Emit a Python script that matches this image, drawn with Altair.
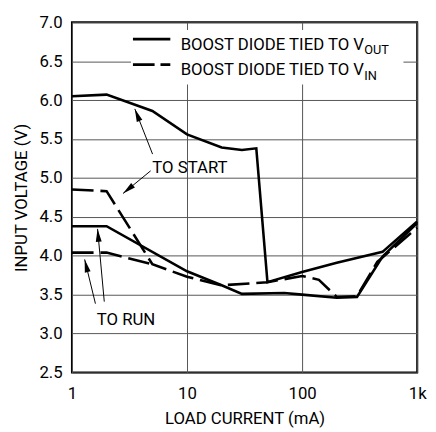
import math
import altair as alt
import pandas as pd

FONT = "Roboto, Liberation Sans, sans-serif"
FS = 17
W, H = 351, 356
X_MIN, X_MAX = 1, 1000
Y_MIN, Y_MAX = 2.5, 7.0

# ---- data ----
vout_start_x = [1, 2, 5, 10, 20, 30, 40, 50, 100, 200, 500, 1000]
vout_start_y = [6.05, 6.07, 5.86, 5.56, 5.39, 5.36, 5.38, 3.66, 3.79, 3.91, 4.05, 4.44]
vout_run_x = [1, 2, 10, 20, 30, 70, 100, 200, 300, 500, 1000]
vout_run_y = [4.38, 4.38, 3.80, 3.62, 3.51, 3.52, 3.50, 3.46, 3.47, 3.99, 4.42]
vin_start_x = [1, 2, 5, 10, 20, 50, 100, 140, 200, 300, 450, 1000]
vin_start_y = [4.85, 4.83, 3.89, 3.73, 3.62, 3.66, 3.74, 3.69, 3.47, 3.48, 3.92, 4.36]
vin_run_x = [1, 2, 5]
vin_run_y = [4.04, 4.04, 3.89]

x_tick_values = [1, 10, 100, 1000]
x_tick_labels = ["1", "10", "100", "1k"]
y_tick_values = [2.5, 3.0, 3.5, 4.0, 4.5, 5.0, 5.5, 6.0, 6.5, 7.0]

legend_main = ["BOOST DIODE TIED TO V", "BOOST DIODE TIED TO V"]
legend_sub = ["OUT", "IN"]

# annotation texts and arrows (tail -> head, data units)
ann_text = ["TO START", "TO RUN"]
ann_text_x = [10.6, 2.95]
ann_text_y = [5.066, 3.106]
arrow_x1 = [5.02, 4.83, 1.60, 1.91]
arrow_y1 = [5.306, 5.091, 3.384, 3.41]
arrow_x2 = [3.52, 2.78, 1.29, 1.67]
arrow_y2 = [5.887, 4.80, 3.953, 4.345]


def px(x):
    return math.log10(x) / math.log10(X_MAX / X_MIN) * W


def py(y):
    return (Y_MAX - y) / (Y_MAX - Y_MIN) * H


rows = []
for name, xs, ys in [("vout_start", vout_start_x, vout_start_y),
                     ("vout_run", vout_run_x, vout_run_y),
                     ("vin_start", vin_start_x, vin_start_y),
                     ("vin_run", vin_run_x, vin_run_y)]:
    for i, (a, b) in enumerate(zip(xs, ys)):
        rows.append({"series": name, "x": a, "y": b, "order": i})
df = pd.DataFrame(rows)

xscale = alt.Scale(type="log", domain=[X_MIN, X_MAX], nice=False)
yscale = alt.Scale(domain=[Y_MIN, Y_MAX], nice=False, zero=False)

label_expr = " : ".join(
    [f"datum.value == {v} ? '{l}'" for v, l in zip(x_tick_values, x_tick_labels)]
) + " : datum.label"

xaxis = alt.Axis(values=x_tick_values, labelExpr=label_expr, title="LOAD CURRENT (mA)",
                 grid=True, labelPadding=13, titlePadding=10, labelFlush=False,
                 labelOverlap=False, labelBound=False, tickCount=len(x_tick_values))
yaxis = alt.Axis(values=y_tick_values, format=".1f", title="INPUT VOLTAGE (V)",
                 grid=True, labelPadding=10, titlePadding=9, labelOverlap=False,
                 labelBound=False, labelFlush=False, tickCount=len(y_tick_values))


def X(field):
    return alt.X(field, type="quantitative", scale=xscale, axis=xaxis)


def Y(field):
    return alt.Y(field, type="quantitative", scale=yscale, axis=yaxis)


base = alt.Chart(df)

solid = base.transform_filter(
    alt.FieldOneOfPredicate(field="series", oneOf=["vout_start", "vout_run"])
).mark_line(color="black", strokeWidth=2.6).encode(
    x=X("x"), y=Y("y"), detail="series:N", order="order:Q",
)

dashed = base.transform_filter(
    alt.FieldOneOfPredicate(field="series", oneOf=["vin_start", "vin_run"])
).mark_line(color="black", strokeWidth=2.6, strokeDash=[22, 7]).encode(
    x=X("x"), y=Y("y"), detail="series:N", order="order:Q",
)

# legend box (white background)
leg_bg = alt.Chart(pd.DataFrame({"x": [3.26], "x2": [760], "y": [6.90], "y2": [6.20]})).mark_rect(
    fill="white"
).encode(x=X("x"), x2="x2:Q", y=Y("y"), y2="y2:Q")

leg_lines_df = pd.DataFrame({"x": [3.39, 3.39], "x2": [7.16, 7.16], "y": [6.785, 6.456],
                             "kind": ["solid", "dashed"]})
leg_solid = alt.Chart(leg_lines_df[leg_lines_df.kind == "solid"]).mark_rule(
    color="black", strokeWidth=2.8
).encode(x=X("x"), x2="x2:Q", y=Y("y"))
leg_dash = alt.Chart(leg_lines_df[leg_lines_df.kind == "dashed"]).mark_rule(
    color="black", strokeWidth=2.8, strokeDash=[22, 6]
).encode(x=X("x"), x2="x2:Q", y=Y("y"))

leg_text_df = pd.DataFrame({"x": [345, 345], "y": [6.64, 6.317], "t": legend_main})
leg_text = alt.Chart(leg_text_df).mark_text(
    font=FONT, fontSize=FS, align="right", baseline="alphabetic", color="black"
).encode(x=X("x"), y=Y("y"), text="t:N")

leg_sub_df = pd.DataFrame({"x": [347, 347], "y": [6.587, 6.254], "t": legend_sub})
leg_sub = alt.Chart(leg_sub_df).mark_text(
    font=FONT, fontSize=13, align="left", baseline="alphabetic", color="black"
).encode(x=X("x"), y=Y("y"), text="t:N")

ann_df = pd.DataFrame({"x": ann_text_x, "y": ann_text_y, "t": ann_text})
ann = alt.Chart(ann_df).mark_text(
    font=FONT, fontSize=FS, align="center", baseline="alphabetic", color="black"
).encode(x=X("x"), y=Y("y"), text="t:N")

angles = []
for a1, b1, a2, b2 in zip(arrow_x1, arrow_y1, arrow_x2, arrow_y2):
    dx = px(a2) - px(a1)
    dy = py(b2) - py(b1)
    angles.append(math.degrees(math.atan2(dx, -dy)) % 360)
arr_df = pd.DataFrame({"x1": arrow_x1, "y1": arrow_y1, "x2": arrow_x2, "y2": arrow_y2,
                       "ang": angles})
arr_lines = alt.Chart(arr_df).mark_rule(color="black", strokeWidth=1).encode(
    x=X("x1"), y=Y("y1"), x2="x2:Q", y2="y2:Q",
)
arr_heads = alt.Chart(arr_df).mark_point(
    shape="M0,0L-0.55,2.4L0.55,2.4Z", filled=True, size=120, color="black",
    opacity=1, strokeWidth=0
).encode(
    x=X("x2"), y=Y("y2"),
    angle=alt.Angle("ang:Q", scale=None),
)

chart = alt.layer(
    leg_bg, solid, dashed, leg_solid, leg_dash, leg_text, leg_sub, ann, arr_lines, arr_heads
).properties(
    width=W, height=H,
    autosize=alt.AutoSizeParams(type="none"),
    padding={"left": 65, "top": 11, "right": 11, "bottom": 56},
    background="white",
).configure_view(
    stroke="black", strokeWidth=2
).configure_axis(
    labelFont=FONT, titleFont=FONT, labelFontSize=FS, titleFontSize=FS,
    labelColor="black", titleColor="black", titleFontWeight="normal",
    gridColor="#555", gridWidth=1, domain=False, ticks=False,
)

chart.save("out.html", embed_options={"renderer": "svg", "actions": False})
